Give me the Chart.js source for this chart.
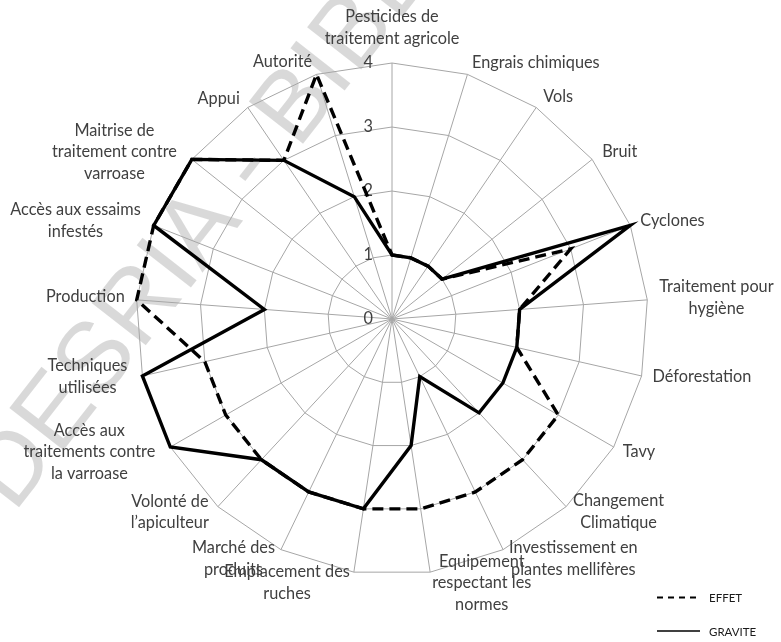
<!DOCTYPE html>
<html>
<head>
<meta charset="utf-8">
<title>Radar EFFET / GRAVITE</title>
<script src="https://cdn.jsdelivr.net/npm/chart.js@4.4.0/dist/chart.umd.min.js"></script>
<style>
  html, body { margin: 0; padding: 0; background: #fff; }
  canvas { display: block; }
</style>
</head>
<body>
<canvas id="radar" width="781" height="642"></canvas>
<script>
// categories, clockwise from the top
const categories = [
  ['Pesticides de', 'traitement agricole'],
  ['Engrais chimiques'],
  ['Vols'],
  ['Bruit'],
  ['Cyclones'],
  ['Traitement pour', 'hygiène'],
  ['Déforestation'],
  ['Tavy'],
  ['Changement', 'Climatique'],
  ['Investissement en', 'plantes mellifères'],
  ['Equipement', 'respectant les', 'normes'],
  ['Emplacement des', 'ruches'],
  ['Marché des', 'produits'],
  ['Volonté de', 'l\u2019apiculteur'],
  ['Accès aux', 'traitements contre', 'la varroase'],
  ['Techniques', 'utilisées'],
  ['Production'],
  ['Accès aux essaims', 'infestés'],
  ['Maitrise de', 'traitement contre', 'varroase'],
  ['Appui'],
  ['Autorité']
];

const effet   = [1, 1, 1, 1, 3, 2, 2, 3, 3, 3, 3, 3, 3, 3, 3, 3, 4, 4, 4, 3, 4];
const gravite = [1, 1, 1, 1, 4, 2, 2, 2, 2, 1, 2, 3, 3, 3, 4, 4, 2, 4, 4, 3, 2];

const tickValues = [0, 1, 2, 3, 4];

// label placement (gap from the spoke tip, vertical shift), like Excel puts them
const labelGap = [0, 4.5, 7, 10, 10, 12, 11, 9, 7, 6, 2, 4, 6, 9, 15, 15, 12, 13, 15, 8, 4.5];
const labelDy  = [-35.5, -11.4, -10.5, -7.4, -4.5, -2, 1, 5, 5, 9, 11, 10.5, 9.3, 5.8, 5, 1, -3, -4.5, -7.4, -8.5, -12.4];

const TEXT = '#404040';
const GRID = '#a6a6a6';
const LABEL_FONT = '16.3px Lato, "Open Sans", sans-serif';

// ========== WATERMARK ==========
const watermark = {
  id: 'watermark',
  beforeDraw(chart) {
    const ctx = chart.ctx;
    ctx.save();
    ctx.translate(-100, 615);
    ctx.rotate(-52 * Math.PI / 180);
    ctx.font = '100px "Liberation Sans", Arial, sans-serif';
    ctx.fillStyle = 'rgba(0,0,0,0.15)';
    ctx.textBaseline = 'middle';
    ctx.textAlign = 'left';
    ctx.fillText('CODESRIA - BIBLIOTHEQUE', 0, 0);
    ctx.restore();
  }
};

// ========== TICKS ==========
const tickLabels = {
  id: 'tickLabels',
  beforeDatasetsDraw(chart) {
    const ctx = chart.ctx;
    const r = chart.scales.r;
    ctx.save();
    ctx.font = '16.3px Lato, "Open Sans", sans-serif';
    ctx.fillStyle = TEXT;
    ctx.textAlign = 'right';
    ctx.textBaseline = 'middle';
    tickValues.forEach(v => {
      ctx.fillText(String(v), r.xCenter - 19, r.yCenter - r.getDistanceFromCenterForValue(v));
    });
    ctx.restore();
  }
};

// ========== CATEGORY LABELS ==========
const outerLabels = {
  id: 'outerLabels',
  afterDraw(chart) {
    const ctx = chart.ctx;
    const r = chart.scales.r;
    ctx.save();
    ctx.font = LABEL_FONT;
    ctx.fillStyle = TEXT;
    ctx.textAlign = 'center';
    ctx.textBaseline = 'middle';
    const lh = 21.5;
    chart.data.labels.forEach((lines, i) => {
      const p = r.getPointPosition(i, r.drawingArea);
      const w = Math.max(...lines.map(l => ctx.measureText(l).width));
      const dx = p.x - r.xCenter;
      let cx = p.x;
      if (dx > 1) cx = p.x + labelGap[i] + w / 2;
      else if (dx < -1) cx = p.x - labelGap[i] - w / 2;
      const cy = p.y + labelDy[i];
      lines.forEach((line, k) => {
        ctx.fillText(line, cx, cy + (k - (lines.length - 1) / 2) * lh);
      });
    });
    ctx.restore();
  }
};

// ========== LEGEND ==========
const legendBox = {
  id: 'legendBox',
  afterDraw(chart) {
    const ctx = chart.ctx;
    ctx.save();
    ctx.strokeStyle = '#000';
    ctx.lineWidth = 2;
    ctx.setLineDash([6, 5]);
    ctx.beginPath();
    ctx.moveTo(657, 597.5);
    ctx.lineTo(700, 597.5);
    ctx.stroke();
    ctx.setLineDash([]);
    ctx.lineWidth = 1.5;
    ctx.beginPath();
    ctx.moveTo(657, 631);
    ctx.lineTo(700, 631);
    ctx.stroke();
    ctx.font = '11.5px Lato, "Open Sans", sans-serif';
    ctx.fillStyle = '#1a1a1a';
    ctx.textBaseline = 'middle';
    ctx.fillText('EFFET', 709, 598);
    ctx.fillText('GRAVITE', 709, 632);
    ctx.restore();
  }
};

new Chart(document.getElementById('radar'), {
  type: 'radar',
  data: {
    labels: categories,
    datasets: [
      {
        label: 'GRAVITE',
        data: gravite,
        borderColor: '#000',
        borderWidth: 3.4,
        fill: false,
        pointRadius: 0
      },
      {
        label: 'EFFET',
        data: effet,
        borderColor: '#000',
        borderWidth: 3.4,
        borderDash: [11, 6],
        fill: false,
        pointRadius: 0
      }
    ]
  },
  options: {
    responsive: false,
    animation: false,
    devicePixelRatio: 1,
    layout: { padding: { left: 136, right: 133, top: 63, bottom: 67 } },
    plugins: {
      legend: { display: false },
      tooltip: { enabled: false }
    },
    elements: { line: { tension: 0, borderJoinStyle: 'miter' } },
    scales: {
      r: {
        min: 0,
        max: 4,
        ticks: { display: false, stepSize: 1 },
        pointLabels: { display: false },
        grid: { color: GRID, lineWidth: 1 },
        angleLines: { color: GRID, lineWidth: 1 }
      }
    }
  },
  plugins: [watermark, tickLabels, outerLabels, legendBox]
});
</script>
</body>
</html>
